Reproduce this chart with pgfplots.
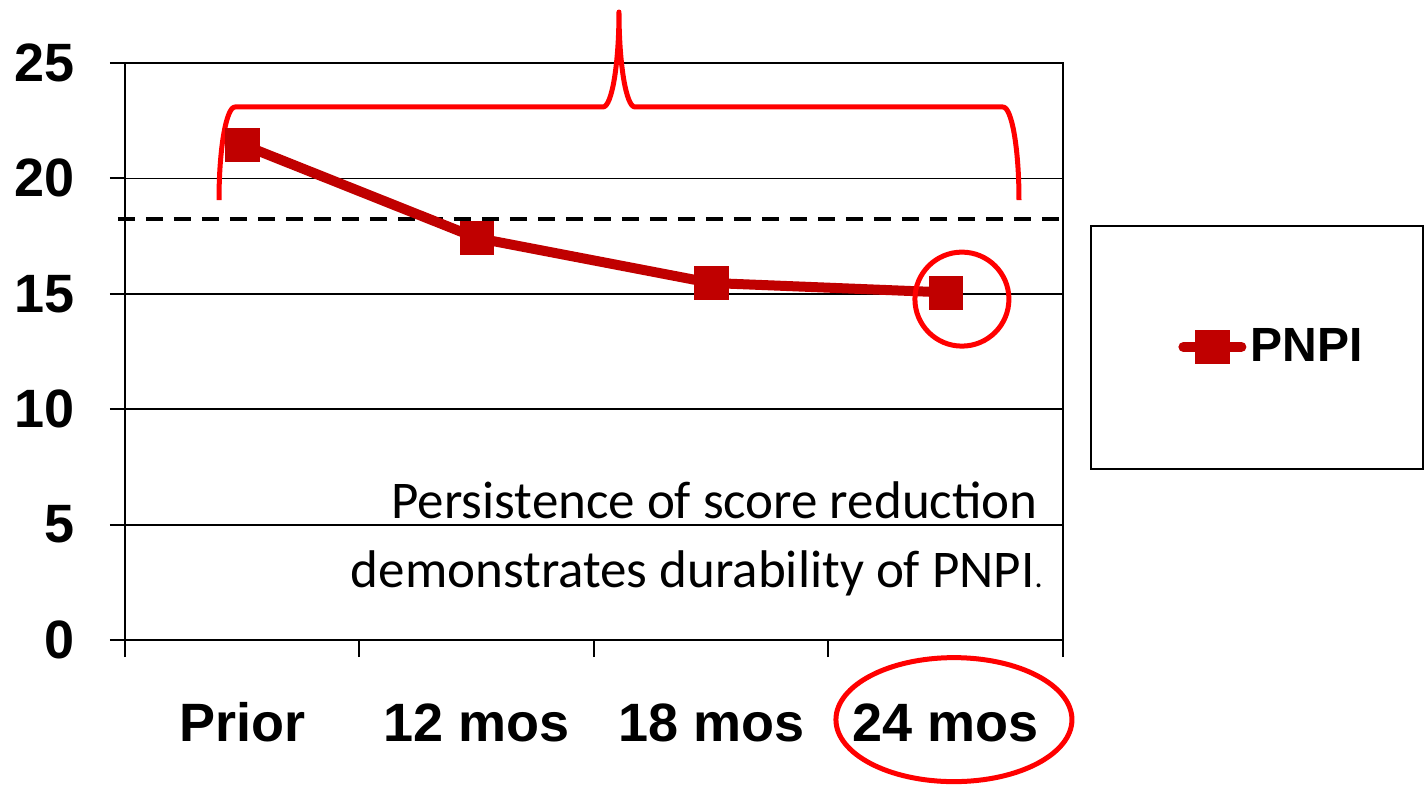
\documentclass[border=0pt]{standalone}
\usepackage{fontspec}
\setmainfont{Liberation Sans}
\newfontfamily\carlito{Carlito}
\usepackage{pgfplots}
\pgfplotsset{compat=1.18}
\definecolor{darkred}{RGB}{192,0,0}
\definecolor{brightred}{RGB}{255,0,0}
\begin{document}
\begin{tikzpicture}
\begin{axis}[
  scale only axis, width=469pt, height=288.5pt,
  xmin=-0.5, xmax=3.5, ymin=0, ymax=25,
  clip=false,
  axis line style={line width=1.4pt},
  xtick={0,1,2,3}, xticklabels={Prior,12 mos,18 mos,24 mos},
  major x tick style={draw=none},
  minor xtick={-0.5,0.5,1.5,2.5,3.5},
  minor x tick style={line width=1pt, black},
  minor tick length=8.5pt,
  ytick={0,5,10,15,20,25},
  y tick style={line width=1pt, black},
  major tick length=7.5pt,
  tick align=outside,
  xtick pos=left, ytick pos=left,
  ymajorgrids, major grid style={line width=0.9pt, black},
  /pgf/number format/assume math mode=true,
  ticklabel style={font=\fontsize{27}{32}\selectfont\bfseries},
  xticklabel style={anchor=base, yshift=-43pt},
  yticklabel style={anchor=east, inner sep=0pt, xshift=-17.5pt},
  legend style={draw=none, fill=none, at={(1.1226,0.508)}, anchor=west,
    font=\fontsize{24}{28}\selectfont\bfseries, inner sep=0pt},
  legend image code/.code={\draw[mark repeat=2,mark phase=2,#1,line cap=round] plot coordinates {(0pt,0pt) (14.5pt,0pt) (29pt,0pt)};},
]
\addplot[black, line width=1.75pt, dash pattern=on 8.5pt off 5.5pt, forget plot]
  coordinates {(-0.53,18.25) (3.5,18.25)};
\addplot[darkred, line width=5pt, line join=round, mark=square*, mark size=8.3pt,
  mark options={solid, line width=0.3pt, line join=miter, fill=darkred}]
  coordinates {(0,21.47) (1,17.42) (2,15.47) (3,15.06)};
\addlegendentry{PNPI}
% brace
\draw[brightred, line width=2.5pt, line join=round]
  (axis cs:-0.0991,19.064) .. controls (axis cs:-0.0991,21.287) and (axis cs:-0.0684,23.094) .. (axis cs:-0.0309,23.094)
  -- (axis cs:1.5384,23.094) .. controls (axis cs:1.5759,23.094) and (axis cs:1.6066,24.939) .. (axis cs:1.6066,27.21)
  .. controls (axis cs:1.6066,24.939) and (axis cs:1.6373,23.094) .. (axis cs:1.6748,23.094)
  -- (axis cs:3.2441,23.094) .. controls (axis cs:3.2817,23.094) and (axis cs:3.3124,21.287) .. (axis cs:3.3124,19.064);
% circle around last point
\draw[brightred, line width=2.5pt] (axis cs:3.069,14.77) circle[radius=23.5pt];
% ellipse around label
\draw[brightred, line width=2.5pt] (axis cs:3.035,-3.45) ellipse[x radius=59pt, y radius=31pt];
% annotation
\node[anchor=base east, inner sep=0pt, font=\carlito\fontsize{26.5}{31}\selectfont] at (axis cs:3.393,5.243) {Persistence of score reduction};
\node[anchor=base east, inner sep=0pt, font=\carlito\fontsize{26.5}{31}\selectfont] at (axis cs:3.415,2.296) {demonstrates durability of PNPI{\fontsize{16}{18}\selectfont.}};
\end{axis}
\draw[black, line width=1pt] ([xshift=483pt, yshift=207pt]current axis.south west) rectangle ([xshift=649pt, yshift=85.5pt]current axis.south west);
\pgfresetboundingbox
\path[use as bounding box] ([xshift=-62.5pt, yshift=-72pt]current axis.south west) rectangle ([xshift=650pt, yshift=320pt]current axis.south west);
\end{tikzpicture}
\end{document}
